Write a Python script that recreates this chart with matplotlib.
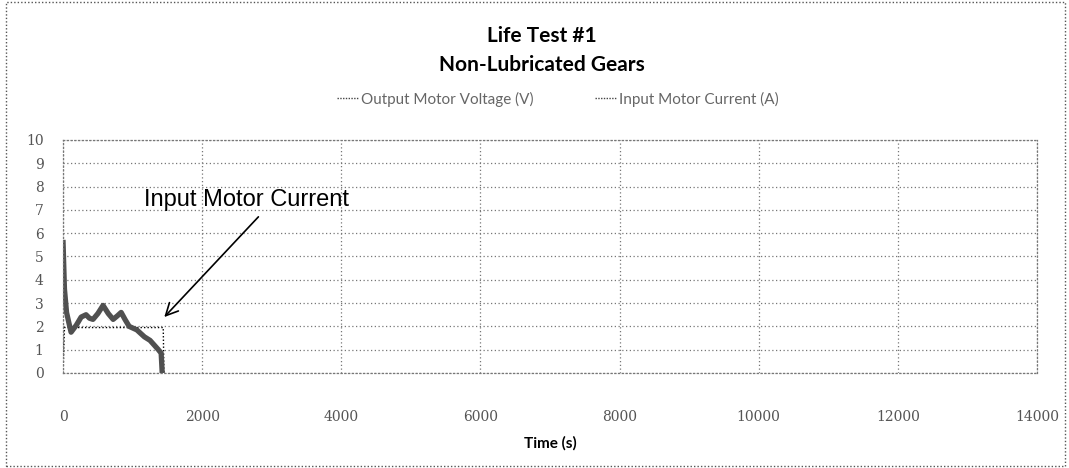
import numpy as np
import matplotlib
matplotlib.use('Agg')
import matplotlib.pyplot as plt
from matplotlib.patches import Rectangle

# data
time_current = [0, 20, 50, 80, 115, 190, 260, 330, 380, 430, 500, 575, 650, 720, 780, 835, 890, 950,
                1060, 1170, 1250, 1310, 1370, 1410, 1425]
current = [5.6, 3.6, 2.6, 2.2, 1.75, 2.05, 2.4, 2.5, 2.35, 2.3, 2.55, 2.9, 2.55, 2.3, 2.45, 2.6, 2.3, 2.0,
           1.85, 1.55, 1.4, 1.2, 1.0, 0.85, 0.0]
time_voltage = [0, 20, 1440, 1450]
voltage = [0.0, 1.95, 1.95, 0.0]

xticks = [0, 2000, 4000, 6000, 8000, 10000, 12000, 14000]
yticks = list(range(0, 11))

plt.rcParams['font.family'] = ['Lato', 'DejaVu Sans']

fig = plt.figure(figsize=(10.69, 4.68), dpi=100)
ax = fig.add_axes([0.059, 0.203, 0.911, 0.498])

ax.plot(time_voltage, voltage, color='black', lw=1.0, ls=(0, (1, 1.5)), label='Output Motor Voltage (V)')
ax.plot(time_current, current, color='#505050', lw=3.8, label='Input Motor Current (A)')

ax.set_xlim(0, 14000)
ax.set_ylim(0, 10)
ax.set_xticks(xticks)
ax.set_yticks(yticks)
ax.set_xticklabels([str(v) for v in xticks], family='DejaVu Serif', fontsize=10, color='#555555')
ax.set_yticklabels([str(v) for v in yticks], family='DejaVu Serif', fontsize=10, color='#555555')
ax.tick_params(axis='x', length=0, pad=27)
ax.tick_params(axis='y', length=0, pad=14)
ax.grid(True, color='#777777', ls=(0, (1, 2)), lw=0.9)
for s in ax.spines.values():
    s.set_color('#777777')
    s.set_linestyle((0, (1, 2)))
    s.set_linewidth(0.9)

ax.set_xlabel('Time (s)', fontsize=11, fontweight='bold', labelpad=8)

fig.text(0.507, 1 - 36 / 468, 'Life Test #1', ha='center', va='center', fontsize=15, fontweight='bold')
fig.text(0.507, 1 - 65 / 468, 'Non-Lubricated Gears', ha='center', va='center', fontsize=15, fontweight='bold')

leg = fig.legend(loc='center', bbox_to_anchor=(0.522, 1 - 99 / 468), ncol=2, frameon=False, fontsize=11,
                 handlelength=1.4, columnspacing=4.0, handletextpad=0.2)
for t in leg.get_texts():
    t.set_color('#666666')
for h in leg.get_lines():
    h.set_color('#444444')
    h.set_linewidth(1.0)
    h.set_linestyle((0, (1, 1)))

ax.text(2644, 6.95, 'Input Motor Current', family='Liberation Sans', fontsize=17,
        ha='center', va='bottom')
ax.annotate('', xy=(1455, 2.4), xytext=(2808, 6.7),
            arrowprops=dict(arrowstyle='->', color='black', lw=1.2, mutation_scale=22,
                            shrinkA=0, shrinkB=0))

border = Rectangle((0.006, 0.004), 0.99, 0.992, transform=fig.transFigure, fill=False,
                   edgecolor='#555555', lw=1.0, ls=(0, (1, 1.5)))
fig.patches.append(border)

fig.savefig('out.png', dpi=100)
